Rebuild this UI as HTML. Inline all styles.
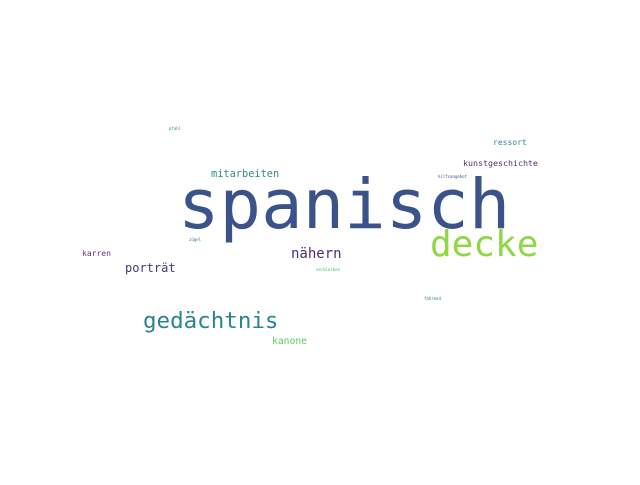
<!DOCTYPE html>
<html><head><meta charset="utf-8"><style>
html,body{margin:0;padding:0;background:#fff;}
svg text{font-family:"DejaVu Sans Mono","Liberation Mono",monospace;}
</style></head><body>
<svg width="640" height="480">
<rect width="640" height="480" fill="#fff"/>
<g id="words"></g>
</svg>
<script>
const words=["spanisch","decke","gedächtnis","nähern","porträt","mitarbeiten","kunstgeschichte","kanone","ressort","karren","pfahl","hilfsangebot","zügel","verbleiben","fahrend"];
const sizes=[69,36,22.5,14,12,10.3,8.3,9.7,8,8,4,4,4,4,4];
const colors=["#3b528b","#8fd744","#2a858e","#472d7b","#453781","#2e8b8c","#5b2a6e","#5ec962","#31868c","#5c3a7e","#21918c","#3b528b","#2c7c8e","#3dbc74","#2a788e"];
const xs=[178,430,143,291,125,211,463,272,493,82,169,438,189,316,424];
const ys=[228,256,328,258,272,177,166,344,145,256,130,178,241,271,300];
const g=document.getElementById('words');
for(let i=0;i<words.length;i++){
 const t=document.createElementNS('http://www.w3.org/2000/svg','text');
 t.setAttribute('x',xs[i]);t.setAttribute('y',ys[i]);
 t.setAttribute('font-size',sizes[i]);t.setAttribute('fill',colors[i]);
 t.textContent=words[i];
 
 
 g.appendChild(t);
}
</script>
</body></html>
